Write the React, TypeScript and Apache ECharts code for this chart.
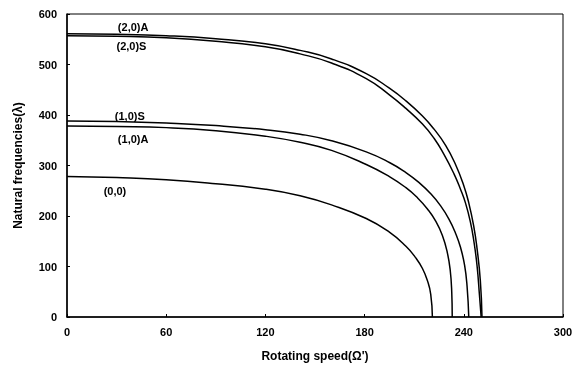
import React, { useEffect, useRef } from "react";
import * as echarts from "echarts";

const xTicks = [0, 60, 120, 180, 240, 300];
const yTicks = [0, 100, 200, 300, 400, 500, 600];

const mode00: [number, number][] = [
  [0, 278], [30, 276], [60, 272], [90, 264], [120, 253], [141, 240], [160, 222], [181, 195],
  [195, 168], [205, 140], [211, 117], [215, 96], [218, 72], [220, 45], [221, 0],
];
const mode10A: [number, number][] = [
  [0, 378], [30, 377], [60, 375], [90, 369], [120, 358], [141, 346], [160, 330], [181, 302],
  [195, 278], [205, 256], [212, 236], [218, 214], [223, 190], [227, 162], [230, 128],
  [231.8, 92], [232.7, 50], [233, 0],
];
const mode10S: [number, number][] = [
  [0, 388], [30, 387], [60, 384], [90, 379], [120, 371], [141, 362], [160, 349], [181, 327],
  [195, 306], [205, 286], [213, 266], [220, 244], [226, 220], [231, 194], [235, 166],
  [238, 138], [240.5, 102], [242, 60], [243, 0],
];
const mode20A: [number, number][] = [
  [0, 561], [30, 560], [60, 557], [90, 551], [120, 541], [141, 528], [160, 511], [181, 482],
  [195, 453], [205, 428], [215, 398], [222, 372], [229, 340], [235, 302], [240, 260],
  [243, 226], [246, 180], [248, 136], [250, 72], [251, 0],
];
const mode20S: [number, number][] = [
  [0, 557], [30, 556], [60, 553], [90, 546], [120, 535], [141, 521], [160, 503], [181, 472],
  [195, 440], [205, 413], [215, 382], [222, 354], [228, 322], [234, 284], [238, 253],
  [241, 226], [244, 188], [246, 152], [248, 102], [249.5, 42], [250.5, 0],
];

const seriesNames = ["(2,0)A", "(2,0)S", "(1,0)S", "(1,0)A", "(0,0)"];
const seriesData = [mode20A, mode20S, mode10S, mode10A, mode00];
// label anchor points in data coordinates [x, y]
const labelAnchors: [number, number][] = [
  [40, 574], [39, 537], [38, 398], [40, 353], [29, 250],
];

export default function App() {
  const ref = useRef<HTMLDivElement>(null);
  useEffect(() => {
    if (!ref.current) return;
    const chart = echarts.init(ref.current, undefined, { renderer: "svg" });
    const font = "Liberation Sans, Arial, sans-serif";
    chart.setOption({
      animation: false,
      grid: {
        left: 67,
        right: 23,
        top: 14,
        bottom: 49.5,
        show: true,
        borderColor: "#000",
        borderWidth: 1,
        backgroundColor: "transparent",
      },
      xAxis: {
        type: "value",
        min: 0,
        max: 300,
        interval: 60,
        name: "Rotating speed(Ω')",
        nameLocation: "middle",
        nameGap: 33,
        nameTextStyle: { fontFamily: font, fontWeight: "bold", fontSize: 12, color: "#000" },
        axisLine: { lineStyle: { color: "#000", width: 1.5 } },
        axisTick: { inside: true, length: 3, lineStyle: { color: "#000" } },
        axisLabel: {
          fontFamily: font,
          fontWeight: "bold",
          fontSize: 11,
          color: "#000",
          margin: 9,
        },
        splitLine: { show: false },
      },
      yAxis: {
        type: "value",
        min: 0,
        max: 600,
        interval: 100,
        name: "Natural frequencies(λ)",
        nameLocation: "middle",
        nameGap: 43,
        nameTextStyle: { fontFamily: font, fontWeight: "bold", fontSize: 12, color: "#000" },
        axisLine: { lineStyle: { color: "#000", width: 1.5 } },
        axisTick: { inside: true, length: 3, lineStyle: { color: "#000" } },
        axisLabel: {
          fontFamily: font,
          fontWeight: "bold",
          fontSize: 11,
          color: "#000",
          margin: 10,
        },
        splitLine: { show: false },
      },
      series: seriesData.map((d, i) => ({
        name: seriesNames[i],
        type: "line",
        data: d,
        showSymbol: false,
        symbol: "none",
        smooth: 0.5,
        lineStyle: { color: "#000", width: 1.5 },
        markPoint: {
          symbol: "rect",
          symbolSize: 0,
          data: [
            {
              coord: labelAnchors[i],
              label: {
                show: true,
                formatter: seriesNames[i],
                fontFamily: font,
                fontSize: 11,
                fontWeight: "bold",
                color: "#000",
                position: "inside",
              },
            },
          ],
        },
      })),
    });
    return () => chart.dispose();
  }, []);
  return (
    <div
      ref={ref}
      style={{ position: "fixed", left: 0, top: 0, width: 586, height: 367 }}
    />
  );
}
